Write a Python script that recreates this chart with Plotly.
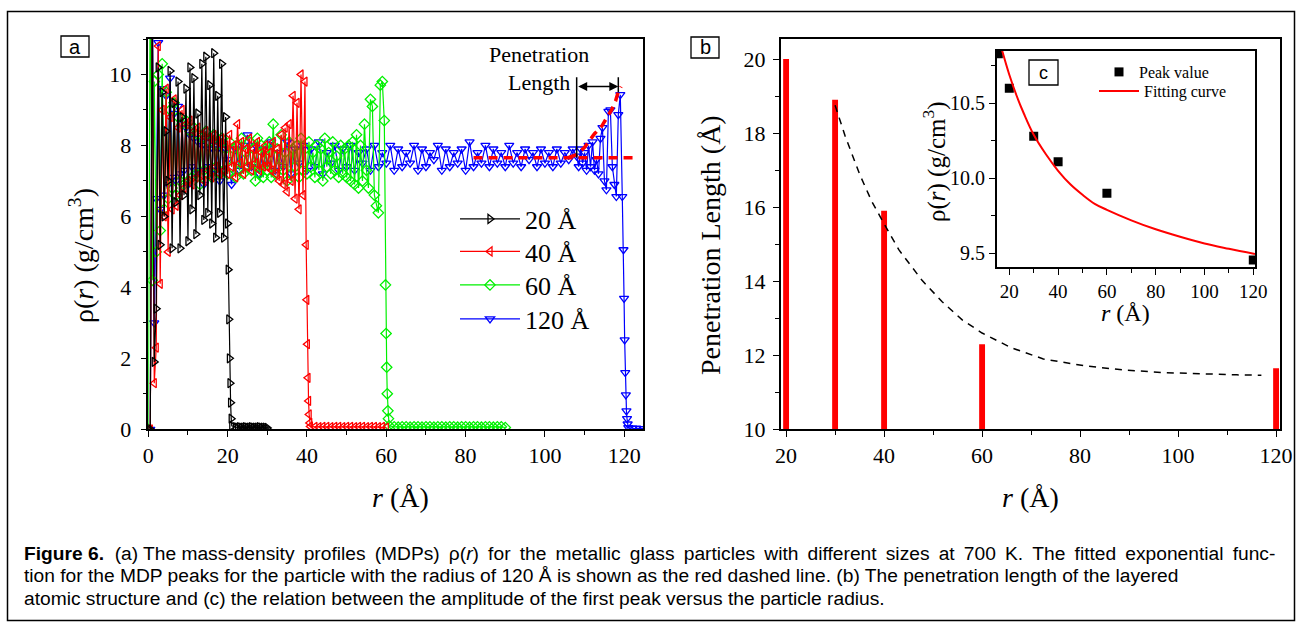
import plotly.graph_objects as go

# design grid (page pixels); the figure fills the browser viewport
W, H = 1302, 628

# ---------------- data: panel a (mass-density profiles) ----------------
# each series = segments of (start r, step, rho values)
rho20_core = [0.0, 0.0, 12.5, 1.9, 3.4, 10.2, 5.2, 9.5, 6.0, 8.4,
              7.0, 10.1, 5.1, 9.2, 6.4, 9.8, 5.1, 8.8, 6.6, 9.6,
              5.3, 10.2, 6.2, 9.9, 5.5, 8.9, 6.6, 10.3, 5.9, 10.5,
              6.1, 9.7, 5.8, 10.6, 5.4, 9.4, 6.1, 10.3, 5.4, 8.8]
rho20_edge = [5.8, 4.5, 3.1, 2.0, 1.3, 0.75, 0.3, 0.1]
rho20_tail = [0.06, 0.05, 0.06, 0.05, 0.05, 0.06, 0.05, 0.05, 0.06,
              0.05, 0.05, 0.05, 0.06, 0.05, 0.05, 0.05, 0.04]
seg20 = [(0.0, 0.5, rho20_core), (20.0, 0.15, rho20_edge), (22.0, 0.5, rho20_tail)]

rho40_core = [0.0, 0.0, 12.0, 1.3, 2.3, 10.8, 4.1, 9.0, 6.0, 9.6,
              5.0, 8.8, 6.2, 9.3, 6.3, 8.5, 6.6, 9.0, 6.8, 8.6,
              7.0, 8.7, 6.9, 8.4, 7.1, 8.5, 7.2, 8.3, 7.0, 8.4,
              7.3, 8.2, 7.1, 8.3, 7.4, 8.1, 7.2, 8.2, 7.3, 8.0,
              7.2, 8.3, 7.4, 8.0, 7.1, 8.6, 7.5, 8.1, 7.2, 7.9,
              7.4, 8.2, 7.3, 7.9, 7.5, 8.1, 7.3, 7.8, 7.4, 8.0,
              7.4, 7.8, 7.3, 8.1, 7.2, 7.9, 7.0, 8.3, 6.9, 8.5,
              6.7, 8.6, 7.0, 9.4, 6.5, 9.2, 6.2, 10.0, 6.6, 9.8]
rho40_edge = [5.2, 3.65, 2.4, 1.45, 0.8, 0.42, 0.18, 0.08]
rho40_tail = [0.07, 0.06, 0.07, 0.07, 0.06, 0.07, 0.07, 0.06, 0.07, 0.07,
              0.06, 0.07, 0.07, 0.06, 0.07, 0.07, 0.06, 0.07, 0.05]
seg40 = [(0.0, 0.5, rho40_core), (39.8, 0.15, rho40_edge), (42.0, 1.0, rho40_tail)]

rho60_core = [0.0, 13.0, 4.2, 9.8, 5.0, 10.0, 5.6, 10.3, 6.2, 9.5,
              6.5, 9.0, 6.8, 9.2, 6.6, 8.8, 7.0, 8.6, 6.9, 8.7,
              7.0, 8.4, 7.1, 8.5, 7.2, 8.3, 6.9, 8.2, 7.3, 8.4,
              7.2, 8.1, 7.1, 8.3, 7.4, 8.0, 7.2, 8.2, 7.3, 7.9,
              7.2, 8.1, 7.4, 7.9, 7.1, 8.0, 7.3, 8.2, 7.2, 7.8,
              7.4, 8.1, 7.3, 7.9, 7.0, 8.2, 7.2, 8.0, 7.1, 7.9,
              7.3, 8.1, 7.1, 8.6, 7.2, 7.9, 7.4, 8.3, 7.3, 7.8,
              7.0, 8.1, 7.2, 7.9, 7.4, 8.0, 7.1, 8.2, 7.3, 7.9,
              7.2, 8.1, 7.4, 7.8, 7.1, 8.0, 7.3, 7.9, 7.0, 8.2,
              7.4, 7.8, 7.2, 8.1, 7.3, 7.7, 7.1, 8.0, 7.2, 7.9,
              7.1, 8.0, 7.0, 8.1, 6.9, 8.3, 6.8, 8.0, 7.0, 8.6,
              7.3, 6.8, 9.3, 9.1, 6.6, 6.3, 6.1, 9.7, 9.8, 8.7]
rho60_edge = [4.07, 2.7, 1.75, 1.0, 0.52, 0.3, 0.1]
rho60_tail = [0.07, 0.06, 0.07, 0.07, 0.06, 0.07, 0.07, 0.06, 0.07, 0.07,
              0.06, 0.07, 0.07, 0.06, 0.07, 0.07, 0.06, 0.07, 0.07, 0.06,
              0.07, 0.07, 0.06, 0.07, 0.07, 0.06, 0.07, 0.07, 0.05]
seg60 = [(0.0, 0.5, rho60_core), (59.8, 0.15, rho60_edge), (62.0, 1.0, rho60_tail)]

rho120_core = [0.0, 0.0, 13.0, 3.0, 6.5, 10.9, 6.2, 9.6, 6.6, 9.4,
               6.9, 9.9, 7.1, 8.9, 7.0, 9.1, 7.2, 8.6, 7.3, 8.5,
               6.9, 8.3, 7.4, 8.2, 7.2, 8.1, 7.3, 8.0, 6.9, 8.2,
               7.4, 7.9, 7.2, 8.1, 7.3, 7.9, 7.0, 8.1, 7.3, 7.9]
rho120_bulk = [7.6, 6.9, 7.9, 7.3, 8.0, 8.3, 7.4, 8.0, 7.2, 7.9,
               7.5, 8.1, 7.3, 7.8, 7.4, 8.1, 7.2, 7.9, 7.5, 8.0,
               7.3, 7.9, 7.4, 8.1, 7.2, 7.8, 7.5, 8.0, 7.3, 7.9,
               7.4, 8.0, 7.3, 7.8, 7.5, 7.9, 7.3, 8.0, 7.4, 7.8,
               7.5, 8.0, 7.3, 7.9, 7.4, 7.8, 7.5, 8.0, 7.3, 7.9,
               7.4, 7.8, 7.6, 8.0, 7.3, 7.9, 7.4, 7.8, 7.5, 7.9,
               7.3, 8.1, 7.4, 7.8, 7.5, 8.0, 7.4, 7.9, 7.5, 7.8,
               7.4, 8.0, 7.5, 7.8, 7.4, 7.9, 7.6, 7.8, 7.4, 7.9,
               7.5, 7.8, 7.4, 7.9, 7.5, 7.8, 7.6, 7.9]
rho120_shell = [7.7, 7.4, 7.9, 7.5, 7.8, 7.3, 8.0, 7.4, 8.1, 7.3,
                7.6, 7.2, 8.2, 8.5, 7.0, 6.75, 8.96, 9.0, 7.4, 6.9,
                6.56, 8.87, 9.43, 6.56]
rho120_edge = [5.06, 3.69, 2.52, 1.6, 0.97, 0.52, 0.3, 0.15, 0.05]
rho120_tail = [0.03, 0.03, 0.02, 0.02]
seg120 = [(0.0, 0.5, rho120_core), (20.0, 1.0, rho120_bulk), (108.0, 0.5, rho120_shell),
          (119.8, 0.15, rho120_edge), (122.0, 1.0, rho120_tail)]

# fitted exponential (red dashed) for the 120 A particle
fit_flat_r = [82.0, 122.5]
fit_flat_rho = [7.65, 7.65]
fit_rise_r = [106.0, 108.0, 110.0, 111.3, 112.5, 114.3, 115.5, 116.8, 117.8, 118.5, 119.2]
fit_rise_rho = [7.66, 7.74, 7.95, 8.16, 8.33, 8.54, 8.75, 9.0, 9.25, 9.52, 9.66]
pen_start, pen_end, pen_level, pen_top = 108.0, 118.5, 9.66, 9.92

# ---------------- data: panel b (penetration length) ----------------
radius_b = [20, 30, 40, 60, 120]
pen_length = [20.0, 18.9, 15.9, 12.3, 11.65]
pen_fit_r = [30, 32, 35, 37.5, 40, 43, 47.7, 51.8, 56, 60, 66, 72.5, 80.7, 89, 97.3, 105.5, 112, 117]
pen_fit_v = [18.75, 17.94, 16.89, 16.15, 15.55, 14.85, 14.03, 13.45, 12.95, 12.6, 12.2,
             11.9, 11.72, 11.6, 11.53, 11.49, 11.47, 11.46]

# ---------------- data: panel c (first peak amplitude) ----------------
radius_c = [15.5, 20, 30, 40, 60, 120]
peak_value = [10.83, 10.60, 10.28, 10.11, 9.90, 9.455]
curve_r = [16.9, 20, 23, 26, 30, 35, 40, 45, 50, 55, 60, 70, 80, 90, 100, 110, 120.7]
curve_v = [10.86, 10.69, 10.55, 10.43, 10.29, 10.16, 10.05, 9.96, 9.89, 9.83, 9.79, 9.72,
           9.66, 9.61, 9.565, 9.53, 9.495]

caption_head = "<b>Figure 6.</b>&nbsp;&nbsp;(a) The "
caption_lines = [
    "mass-density profiles (MDPs) ρ(<i>r</i>) for the metallic glass particles with different sizes at 700 K. The fitted exponential func-",
    "tion for the MDP peaks for the particle with the radius of 120 Å is shown as the red dashed line. (b) The penetration length of the layered",
    "atomic structure and (c) the relation between the amplitude of the first peak versus the particle radius.",
]


def build(segments):
    r, v = [], []
    for start, step, vals in segments:
        r += [round(start + step * i, 3) for i in range(len(vals))]
        v += list(vals)
    return r, v


def px(x):
    return x / W


def py(y):
    return 1 - y / H


SERIF = "Liberation Serif"
SANS = "Liberation Sans"

fig = go.Figure()

# drawn bottom-to-top: 120, 60, 40, 20 ; each legend entry in its own legend box
series = [
    ("120 Å", seg120, "#0000ff", "triangle-down-open", "legend5"),
    ("60 Å", seg60, "#00f000", "diamond-open", "legend4"),
    ("40 Å", seg40, "#ff0000", "triangle-left-open", "legend3"),
    ("20 Å", seg20, "#000000", "triangle-right-open", "legend"),
]
for name, segs, col, sym, leg in series:
    r, v = build(segs)
    fig.add_trace(go.Scatter(
        x=r, y=v, mode="lines+markers", name=name,
        line=dict(color=col, width=1.2),
        marker=dict(symbol=sym, size=8, color=col, line=dict(width=1.3, color=col)),
        xaxis="x", yaxis="y", legend=leg))

fig.add_trace(go.Scatter(x=fit_flat_r, y=fit_flat_rho, mode="lines", showlegend=False,
                         line=dict(color="#ff0000", width=3.5, dash="9px,6px"), xaxis="x", yaxis="y"))
fig.add_trace(go.Scatter(x=fit_rise_r, y=fit_rise_rho, mode="lines", showlegend=False,
                         line=dict(color="#ff0000", width=3.5, dash="9px,6px"), xaxis="x", yaxis="y"))
# penetration length marker lines
fig.add_trace(go.Scatter(x=[pen_start, pen_start], y=[fit_flat_rho[0], pen_top], mode="lines",
                         showlegend=False, line=dict(color="black", width=1.5), xaxis="x", yaxis="y"))
fig.add_trace(go.Scatter(x=[pen_end, pen_end], y=[9.5, pen_top], mode="lines",
                         showlegend=False, line=dict(color="black", width=1.5), xaxis="x", yaxis="y"))

# panel b
fig.add_trace(go.Bar(x=radius_b, y=pen_length, width=1.2, marker=dict(color="#ff0000", line=dict(width=0)),
                     showlegend=False, xaxis="x2", yaxis="y2"))
fig.add_trace(go.Scatter(x=pen_fit_r, y=pen_fit_v, mode="lines", showlegend=False,
                         line=dict(color="black", width=1.5, dash="7px,6px"), xaxis="x2", yaxis="y2"))

# panel c
fig.add_trace(go.Scatter(x=radius_c, y=peak_value, mode="markers", name="Peak value",
                         marker=dict(symbol="square", size=9, color="black"),
                         xaxis="x3", yaxis="y3", legend="legend2"))
fig.add_trace(go.Scatter(x=curve_r, y=curve_v, mode="lines", name="Fitting curve",
                         line=dict(color="#ff0000", width=2, shape="spline"),
                         xaxis="x3", yaxis="y3", legend="legend6"))


def axis(domain, rng, dtick, minor, size=22, tick0=0, anchor=None, fmt=None, standoff=None):
    d = dict(domain=domain, range=rng, dtick=dtick, tick0=tick0, showline=True, linecolor="black",
             linewidth=1.5, mirror=True, ticks="outside", ticklen=6, tickwidth=1.3, tickcolor="black",
             showgrid=False, zeroline=False, tickfont=dict(family=SERIF, size=size, color="black"),
             minor=dict(dtick=minor, ticks="outside", ticklen=4, tickwidth=1.3, tickcolor="black", showgrid=False),
             anchor=anchor)
    if fmt:
        d["tickformat"] = fmt
    if standoff is not None:
        d["ticklabelstandoff"] = standoff
    return d


def leg(x, y, size, itemwidth):
    return dict(x=px(x), y=py(y), xanchor="left", yanchor="top", bgcolor="rgba(0,0,0,0)",
                borderwidth=0, font=dict(family=SERIF, size=size, color="black"), itemwidth=itemwidth)


fig.update_layout(
    autosize=True, margin=dict(l=0, r=0, t=0, b=0, autoexpand=False),
    paper_bgcolor="white", plot_bgcolor="rgba(0,0,0,0)",
    font=dict(family=SERIF, color="black"),
    xaxis=axis([px(148.3), px(643.3)], [0, 124.8], 20, 10, anchor="y"),
    yaxis=axis([py(429.3), py(39)], [0, 11], 2, 1, anchor="x", standoff=5),
    xaxis2=axis([px(780.7), px(1280)], [18.9, 120.8], 20, 10, anchor="y2"),
    yaxis2=axis([py(429.3), py(39)], [10, 20.54], 2, 1, tick0=10, anchor="x2", standoff=3),
    xaxis3=axis([px(996.7), px(1255)], [14.83, 120.7], 20, 10, size=19, anchor="y3"),
    yaxis3=axis([py(267.3), py(50.7)], [9.407, 10.85], 0.5, 0.25, size=20, tick0=9.5, anchor="x3", fmt=".1f"),
    legend=leg(455, 195.5, 26, 60),
    legend3=leg(455, 228, 26, 60),
    legend4=leg(455, 261.5, 26, 60),
    legend5=leg(455, 295.5, 26, 60),
    legend2=leg(1099, 55, 16, 30),
    legend6=leg(1094, 74, 16, 40),
)

ann = []
# arrow for penetration length
ann.append(dict(x=pen_end, y=pen_level, ax=pen_start, ay=pen_level, xref="x", yref="y", axref="x", ayref="y",
                showarrow=True, arrowside="end+start", arrowhead=2, arrowsize=1.2, arrowwidth=1.5,
                arrowcolor="black", text=""))
ann.append(dict(x=98.5, y=10.56, xref="x", yref="y", text="Penetration", showarrow=False,
                xanchor="center", yanchor="middle", font=dict(family=SERIF, size=22)))
ann.append(dict(x=106.8, y=9.78, xref="x", yref="y", text="Length", showarrow=False, xanchor="right",
                yanchor="middle", font=dict(family=SERIF, size=22)))


def title(x, y, text, size, angle=0):
    ann.append(dict(x=px(x), y=py(y), xref="paper", yref="paper", text=text, textangle=angle,
                    xanchor="center", yanchor="middle", showarrow=False, font=dict(family=SERIF, size=size)))


title(81, 256, "ρ(<i>r</i>) (g/cm<sup>3</sup>)", 28, -90)
title(400, 497, "<i>r</i> (Å)", 28)
title(711, 245, "Penetration Length (Å)", 28, -90)
title(1030, 497, "<i>r</i> (Å)", 28)
title(934, 162, "ρ(<i>r</i>) (g/cm<sup>3</sup>)", 25, -90)
title(1125, 313, "<i>r</i> (Å)", 24)

# panel labels
shapes = []
for lab, (x0, y0, x1, y1), fs in [("a", (61, 36, 89, 57), 20), ("b", (691, 37, 719, 58), 20),
                                  ("c", (1029, 60, 1058, 85), 18)]:
    shapes.append(dict(type="rect", xref="paper", yref="paper", x0=px(x0), x1=px(x1), y0=py(y1), y1=py(y0),
                       line=dict(color="black", width=1.3), fillcolor="white"))
    ann.append(dict(x=px((x0 + x1) / 2), y=py((y0 + y1) / 2), xref="paper", yref="paper", text=lab,
                    xanchor="center", yanchor="middle", showarrow=False, font=dict(family=SANS, size=fs)))

# outer frame
shapes.append(dict(type="rect", xref="paper", yref="paper", x0=px(7.5), x1=px(1294.5), y0=py(620.5), y1=py(11.5),
                   line=dict(color="black", width=1.5), layer="below"))

# caption (first line is justified in the reference: thin spaces widen its word gaps)
for i, line in enumerate(caption_lines):
    text = caption_head + line.replace(" ", " &#8201;") if i == 0 else line
    ann.append(dict(x=px(22), y=py(553 + 22.5 * i), xref="paper", yref="paper", text=text, showarrow=False,
                    xanchor="left", yanchor="middle", font=dict(family=SANS, size=19.2, color="black")))

fig.update_layout(annotations=ann, shapes=shapes)

fig.write_html(
    "out.html",
    config={"displayModeBar": False, "responsive": True},
    default_width="100vw", default_height="100vh",
    post_script="document.documentElement.style.overflow='hidden';document.body.style.overflow='hidden';document.body.style.margin='0';",
)
